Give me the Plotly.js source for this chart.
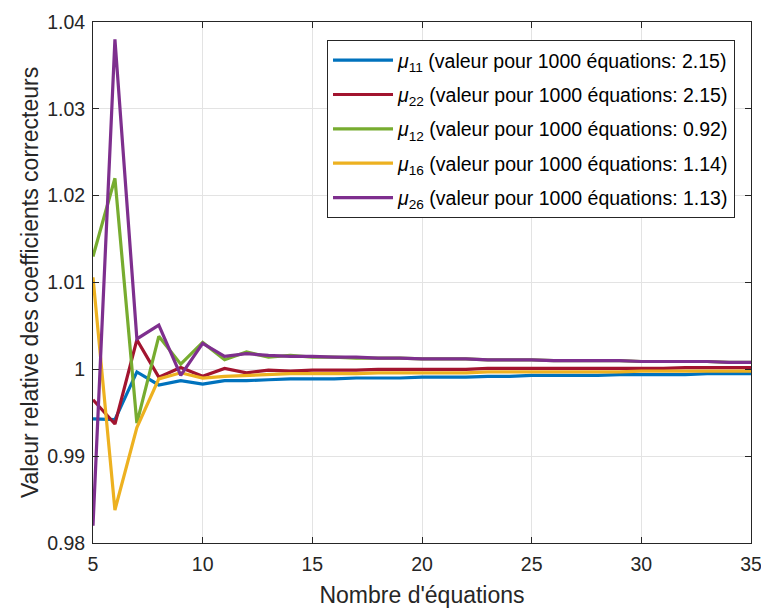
<!DOCTYPE html>
<html>
<head>
<meta charset="utf-8">
<script src="https://cdn.plot.ly/plotly-3.0.1.min.js"></script>
<style>html,body{margin:0;padding:0;background:#fff;}#chart{width:761px;height:608px;}</style>
</head>
<body>
<div id="chart"></div>
<script>
const nEq = [5,6,7,8,9,10,11,12,13,14,15,16,17,18,19,20,21,22,23,24,25,26,27,28,29,30,31,32,33,34,35];

const mu11 = [0.9943,0.9942,0.9997,0.9982,0.9987,0.9983,0.9987,0.9987,0.9988,0.9989,0.9989,0.9989,0.9990,0.9990,0.9990,0.9991,0.9991,0.9991,0.9992,0.9992,0.9993,0.9993,0.9993,0.9993,0.9994,0.9994,0.9994,0.9994,0.9995,0.9995,0.9995];
const mu22 = [0.9965,0.9937,1.0034,0.9991,1.0002,0.9992,1.0001,0.9996,0.9999,0.9998,0.9999,0.9999,0.9999,1.0000,1.0000,1.0000,1.0000,1.0000,1.0001,1.0001,1.0001,1.0001,1.0001,1.0001,1.0001,1.0001,1.0001,1.0002,1.0002,1.0002,1.0002];
const mu12 = [1.0130,1.0220,0.9938,1.0038,1.0006,1.0031,1.0011,1.0020,1.0014,1.0016,1.0014,1.0014,1.0013,1.0013,1.0013,1.0012,1.0012,1.0012,1.0011,1.0011,1.0011,1.0010,1.0010,1.0010,1.0010,1.0009,1.0009,1.0009,1.0009,1.0008,1.0008];
const mu16 = [1.0106,0.9838,0.9933,0.9989,0.9996,0.9990,0.9992,0.9993,0.9994,0.9995,0.9995,0.9995,0.9995,0.9996,0.9996,0.9996,0.9996,0.9996,0.9997,0.9997,0.9997,0.9997,0.9997,0.9997,0.9997,0.9998,0.9998,0.9998,0.9998,0.9998,0.9998];
const mu26 = [0.9820,1.0380,1.0035,1.0051,0.9993,1.0030,1.0015,1.0018,1.0016,1.0015,1.0015,1.0014,1.0014,1.0013,1.0013,1.0012,1.0012,1.0012,1.0011,1.0011,1.0011,1.0010,1.0010,1.0010,1.0010,1.0009,1.0009,1.0009,1.0009,1.0008,1.0008];

const seriesNames = [
  '<i>μ</i><sub>11</sub> (valeur pour 1000 équations: 2.15)',
  '<i>μ</i><sub>22</sub> (valeur pour 1000 équations: 2.15)',
  '<i>μ</i><sub>12</sub> (valeur pour 1000 équations: 0.92)',
  '<i>μ</i><sub>16</sub> (valeur pour 1000 équations: 1.14)',
  '<i>μ</i><sub>26</sub> (valeur pour 1000 équations: 1.13)'
];
const seriesValues = [mu11, mu22, mu12, mu16, mu26];
const colors = ['#0072BD','#A2142F','#77AC30','#EDB120','#7E2F8E'];

const xTicks = [5,10,15,20,25,30,35];
const yTicks = [0.98,0.99,1.00,1.01,1.02,1.03,1.04];
const yTickText = ['0.98','0.99','1','1.01','1.02','1.03','1.04'];

const traces = seriesValues.map((v,i)=>({
  x: nEq, y: v, type:'scatter', mode:'lines', name: seriesNames[i],
  legendgroup:'g'+i,
  line:{color:colors[i], width:3.2}
}));

const FONT = 'Liberation Sans, Arial, sans-serif';
const axisCommon = {
  showline:true, linecolor:'#262626', linewidth:1, mirror:'ticks',
  ticks:'inside', ticklen:6, tickcolor:'#262626', tickwidth:1,
  showgrid:true, gridcolor:'#e3e3e3', gridwidth:1, zeroline:false,
  ticklabeloverflow:'allow',
  tickfont:{family:FONT, size:19.5, color:'#262626'}
};

const layout = {
  width:761, height:608,
  margin:{l:93, r:10, t:22, b:65},
  paper_bgcolor:'#ffffff', plot_bgcolor:'#ffffff',
  showlegend:true,
  xaxis: Object.assign({}, axisCommon, {
    range:[5,35], tickmode:'array', tickvals:xTicks, ticktext:xTicks.map(String),
    ticklabelstandoff:4,
    title:{text:"Nombre d'équations", font:{family:FONT, size:23, color:'#262626'}, standoff:12}
  }),
  yaxis: Object.assign({}, axisCommon, {
    range:[0.98,1.04], tickmode:'array', tickvals:yTicks, ticktext:yTickText,
    ticklabelstandoff:3,
    title:{text:'Valeur relative des coefficients correcteurs', font:{family:FONT, size:23, color:'#262626'}, standoff:2}
  }),
  legend:{
    x:0.9757, y:0.9655, xanchor:'right', yanchor:'top',
    bgcolor:'#ffffff', bordercolor:'#262626', borderwidth:1,
    font:{family:FONT, size:19.5, color:'#000000'},
    tracegroupgap:6,
    itemwidth:60
  }
};

Plotly.newPlot('chart', traces, layout, {displayModeBar:false, staticPlot:true});
</script>
</body>
</html>
